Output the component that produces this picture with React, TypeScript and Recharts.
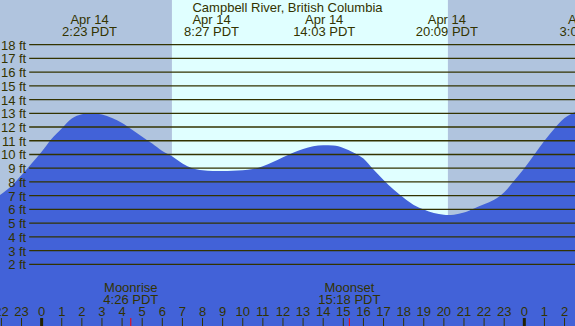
import React from 'react';
import { ComposedChart, Area, XAxis, YAxis, ReferenceArea, ReferenceLine } from 'recharts';

// tide height (ft), by hour from midnight Apr 14
const tideHours = [-2.07, -1.5, -1, -0.5, 0, 0.5, 1, 1.5, 2, 2.4, 3, 3.5, 4, 4.5, 5, 5.5, 6, 6.5, 7, 7.5, 8, 8.5, 9, 9.5, 10, 10.5, 11, 11.5, 12, 12.5, 13, 13.5, 14, 14.5, 15, 15.5, 16, 16.5, 17, 17.5, 18, 18.5, 19, 19.5, 20, 20.2, 20.5, 21, 21.5, 22, 22.5, 23, 23.5, 24, 24.5, 25, 25.5, 26, 26.52];
const tideFeet = [7.05, 7.7, 8.5, 9.35, 10.2, 11.15, 11.9, 12.62, 12.93, 13.0, 12.92, 12.65, 12.3, 11.8, 11.3, 10.8, 10.25, 9.85, 9.35, 9.0, 8.85, 8.8, 8.8, 8.82, 8.86, 8.95, 9.15, 9.45, 9.8, 10.12, 10.4, 10.6, 10.68, 10.65, 10.48, 10.15, 9.7, 8.9, 8.15, 7.45, 6.85, 6.33, 6.0, 5.73, 5.62, 5.59, 5.62, 5.77, 6.07, 6.37, 6.7, 7.25, 8.1, 9.0, 10.0, 11.0, 11.9, 12.65, 13.1];

const eventHours = [2.383, 8.45, 14.05, 20.15, 27.12];
const eventDates = ['Apr 14', 'Apr 14', 'Apr 14', 'Apr 14', 'Apr 15'];
const eventTimes = ['2:23 PDT', '8:27 PDT', '14:03 PDT', '20:09 PDT', '3:07 PDT'];

const gridFeet = [2, 3, 4, 5, 6, 7, 8, 9, 10, 11, 12, 13, 14, 15, 16, 17, 18];
const hourTicks = [-2, -1, 0, 1, 2, 3, 4, 5, 6, 7, 8, 9, 10, 11, 12, 13, 14, 15, 16, 17, 18, 19, 20, 21, 22, 23, 24, 25, 26];

const moonHours = [4.433, 15.3];
const moonNames = ['Moonrise', 'Moonset'];
const moonTimes = ['4:26 PDT', '15:18 PDT'];

const sunrise = 6.48;
const sunset = 20.2;

const X_MIN = -2.07;
const X_MAX = 26.52;
const Y_MIN = -2.49;
const Y_MAX = 21.25;
const TICK_TOP = -1.91; // ft value at the top of the hour ticks

const ink = '#333300';
const font = '"Liberation Sans", Arial, sans-serif';

const data = tideHours.map((h, i) => ({ h, ft: tideFeet[i] }));

const App = () => {
  return (
    <div style={{ width: 575, height: 326 }}>
      <style>{`body{margin:0}`}</style>
      <ComposedChart width={575} height={326} data={data} margin={{ top: 0, right: 0, bottom: 0, left: 0 }}>
        <XAxis type="number" dataKey="h" domain={[X_MIN, X_MAX]} hide height={0} allowDataOverflow />
        <YAxis type="number" domain={[Y_MIN, Y_MAX]} hide width={0} allowDataOverflow />
        <ReferenceArea x1={X_MIN} x2={sunrise} y1={Y_MIN} y2={Y_MAX} fill="#B0C4DE" fillOpacity={1} stroke="none" />
        <ReferenceArea x1={sunrise} x2={sunset} y1={Y_MIN} y2={Y_MAX} fill="#E0FFFF" fillOpacity={1} stroke="none" />
        <ReferenceArea x1={sunset} x2={X_MAX} y1={Y_MIN} y2={Y_MAX} fill="#B0C4DE" fillOpacity={1} stroke="none" />
        <Area
          type="monotone"
          dataKey="ft"
          stroke="none"
          fill="#4262D8"
          fillOpacity={1}
          baseValue={Y_MIN}
          isAnimationActive={false}
          dot={false}
          activeDot={false}
        />
        {gridFeet.map((f) => (
          <ReferenceLine
            key={`g${f}`}
            segment={[{ x: -0.617, y: f }, { x: X_MAX, y: f }]}
            stroke={ink}
            strokeWidth={1.3}
            label={(p: any) => (
              <text
                x={p.viewBox.x - 3}
                y={p.viewBox.y + 5}
                textAnchor="end"
                fill={ink}
                fontSize={13}
                fontFamily={font}
              >
                {`${f} ft`}
              </text>
            )}
          />
        ))}
        {hourTicks.map((h) => (
          <ReferenceLine
            key={`h${h}`}
            segment={[{ x: h, y: TICK_TOP }, { x: h, y: Y_MIN }]}
            stroke={h % 24 === 0 ? '#222200' : ink}
            strokeWidth={h % 24 === 0 ? 3 : 1}
            ifOverflow="visible"
            label={(p: any) => (
              <text x={p.viewBox.x} y={316} textAnchor="middle" fill={ink} fontSize={13} fontFamily={font}>
                {((h % 24) + 24) % 24}
              </text>
            )}
          />
        ))}
        {eventHours.map((h, i) => (
          <ReferenceLine
            key={`e${i}`}
            x={h}
            stroke="none"
            ifOverflow="visible"
            label={(p: any) => (
              <g>
                <text x={p.viewBox.x} y={24} textAnchor="middle" fill={ink} fontSize={13} fontFamily={font}>
                  {eventDates[i]}
                </text>
                <text x={p.viewBox.x} y={36} textAnchor="middle" fill={ink} fontSize={13} fontFamily={font}>
                  {eventTimes[i]}
                </text>
              </g>
            )}
          />
        ))}
        {moonHours.map((h, i) => (
          <ReferenceLine
            key={`m${i}`}
            segment={[{ x: h, y: TICK_TOP }, { x: h, y: Y_MIN }]}
            stroke="#ff0000"
            strokeWidth={1}
            label={(p: any) => (
              <g>
                <text x={p.viewBox.x} y={292} textAnchor="middle" fill={ink} fontSize={13} fontFamily={font}>
                  {moonNames[i]}
                </text>
                <text x={p.viewBox.x} y={304} textAnchor="middle" fill={ink} fontSize={13} fontFamily={font}>
                  {moonTimes[i]}
                </text>
              </g>
            )}
          />
        ))}
        <ReferenceLine
          y={Y_MAX}
          stroke="none"
          label={() => (
            <text x={287.5} y={12} textAnchor="middle" fill={ink} fontSize={13} fontFamily={font}>
              Campbell River, British Columbia
            </text>
          )}
        />
      </ComposedChart>
    </div>
  );
};

export default App;
